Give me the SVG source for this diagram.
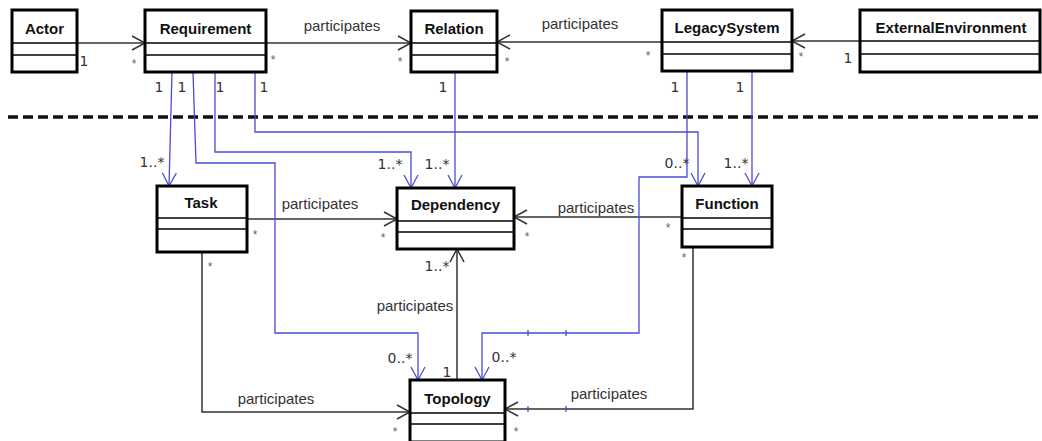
<svg xmlns="http://www.w3.org/2000/svg" width="1042" height="441" viewBox="0 0 1042 441">
  <defs>
    <style>
      .box { fill: #fff; stroke: #000; stroke-width: 3; }
      .sep { stroke: #000; stroke-width: 1.5; }
      .title { font-family: "Liberation Sans", Arial, sans-serif; font-size: 15px; font-weight: bold; fill: #111; text-anchor: middle; }
      .lbl { font-family: "Liberation Sans", Arial, sans-serif; font-size: 15px; fill: #333; text-anchor: middle; }
      .mult { font-family: "DejaVu Sans", "Liberation Sans", sans-serif; font-size: 14px; fill: #333; text-anchor: middle; }
      .star { font-family: "Liberation Sans", Arial, sans-serif; font-size: 12px; fill: #666; text-anchor: middle; }
      .assoc { fill: none; stroke: #333; stroke-width: 1.5; marker-end: url(#open-black); }
      .trace { fill: none; stroke: #4b4bd6; stroke-width: 1.3; marker-end: url(#open-blue); }
      .tick { stroke: #4b4bd6; stroke-width: 1.3; }
    </style>
    <marker id="open-black" viewBox="-14 -8 16 16" refX="0" refY="0" markerWidth="16" markerHeight="16" markerUnits="userSpaceOnUse" orient="auto">
      <path d="M-13,-7 L0,0 L-13,7" fill="none" stroke="#333" stroke-width="1.5"/>
    </marker>
    <marker id="open-blue" viewBox="-14 -8 16 16" refX="0" refY="0" markerWidth="16" markerHeight="16" markerUnits="userSpaceOnUse" orient="auto">
      <path d="M-13,-7 L0,0 L-13,7" fill="none" stroke="#4b4bd6" stroke-width="1.3"/>
    </marker>
  </defs>

  <rect width="1042" height="441" fill="#fff"/>

  <!-- layer divider -->
  <line x1="8" y1="117" x2="1042" y2="117" stroke="#111" stroke-width="3.5" stroke-dasharray="10 5"/>

  <g id="connectors">
    <!-- associations -->
    <path class="assoc" d="M77,43 H145"/>
    <path class="assoc" d="M266,43 H411"/>
    <path class="assoc" d="M662,42 H497"/>
    <path class="assoc" d="M860,41 H792"/>
    <path class="assoc" d="M247,219 H397"/>
    <path class="assoc" d="M682,217 H514"/>
    <path class="assoc" d="M202,252 V412 H410"/>
    <path class="assoc" d="M457,380 V249"/>
    <path class="assoc" d="M693,247 V409 H505"/>
    <!-- traces -->
    <path class="trace" d="M172,72 L169,186"/>
    <path class="trace" d="M193,72 L196,163 H275 V333 H418 V380"/>
    <path class="trace" d="M215,72 V152 H411 V188"/>
    <path class="trace" d="M255,72 V132 H698 V186"/>
    <path class="trace" d="M455,72 V188"/>
    <path class="trace" d="M687,71 V177 H639 V333 H482 V380"/>
    <path class="trace" d="M752,71 V186"/>
    <line class="tick" x1="528" y1="330" x2="528" y2="336"/>
    <line class="tick" x1="566" y1="330" x2="566" y2="336"/>
    <line class="tick" x1="528" y1="406" x2="528" y2="412"/>
    <line class="tick" x1="566" y1="406" x2="566" y2="412"/>

    <!-- association labels -->
    <text class="lbl" x="342" y="31">participates</text>
    <text class="lbl" x="580" y="29">participates</text>
    <text class="lbl" x="320" y="209">participates</text>
    <text class="lbl" x="596" y="213">participates</text>
    <text class="lbl" x="415" y="311">participates</text>
    <text class="lbl" x="276" y="404">participates</text>
    <text class="lbl" x="609" y="399">participates</text>

    <!-- multiplicities -->
    <text class="mult" x="84" y="66">1</text>
    <text class="star" x="134" y="68">*</text>
    <text class="star" x="273" y="64">*</text>
    <text class="star" x="400" y="66">*</text>
    <text class="star" x="507" y="66">*</text>
    <text class="star" x="648" y="60">*</text>
    <text class="star" x="801" y="61">*</text>
    <text class="mult" x="848" y="63">1</text>

    <text class="mult" x="159" y="92">1</text>
    <text class="mult" x="182" y="92">1</text>
    <text class="mult" x="220" y="92">1</text>
    <text class="mult" x="264" y="92">1</text>
    <text class="mult" x="443" y="92">1</text>
    <text class="mult" x="675" y="92">1</text>
    <text class="mult" x="740" y="92">1</text>

    <text class="mult" x="152" y="167">1..*</text>
    <text class="mult" x="390" y="169">1..*</text>
    <text class="mult" x="437" y="169">1..*</text>
    <text class="mult" x="677" y="168">0..*</text>
    <text class="mult" x="736" y="168">1..*</text>

    <text class="star" x="255" y="239">*</text>
    <text class="star" x="383" y="242">*</text>
    <text class="star" x="527" y="241">*</text>
    <text class="star" x="668" y="232">*</text>
    <text class="star" x="210" y="271">*</text>
    <text class="star" x="684" y="262">*</text>
    <text class="mult" x="437" y="271">1..*</text>
    <text class="mult" x="400" y="363">0..*</text>
    <text class="mult" x="447" y="377">1</text>
    <text class="mult" x="504" y="362">0..*</text>
    <text class="star" x="395" y="436">*</text>
    <text class="star" x="516" y="436">*</text>
  </g>

  <g id="actor">
    <rect class="box" x="12" y="10" width="65" height="62"/>
    <line class="sep" x1="12" y1="43" x2="77" y2="43"/>
    <line class="sep" x1="12" y1="55" x2="77" y2="55"/>
    <text class="title" x="44.5" y="34">Actor</text>
  </g>
  <g id="requirement">
    <rect class="box" x="145" y="10" width="121" height="62"/>
    <line class="sep" x1="145" y1="43" x2="266" y2="43"/>
    <line class="sep" x1="145" y1="55" x2="266" y2="55"/>
    <text class="title" x="205.5" y="34">Requirement</text>
  </g>
  <g id="relation">
    <rect class="box" x="411" y="11" width="86" height="61"/>
    <line class="sep" x1="411" y1="43" x2="497" y2="43"/>
    <line class="sep" x1="411" y1="55" x2="497" y2="55"/>
    <text class="title" x="454" y="34">Relation</text>
  </g>
  <g id="legacy-system">
    <rect class="box" x="662" y="10" width="130" height="61"/>
    <line class="sep" x1="662" y1="42" x2="792" y2="42"/>
    <line class="sep" x1="662" y1="54" x2="792" y2="54"/>
    <text class="title" x="727" y="33">LegacySystem</text>
  </g>
  <g id="external-environment">
    <rect class="box" x="860" y="10" width="180" height="62"/>
    <line class="sep" x1="860" y1="41" x2="1040" y2="41"/>
    <line class="sep" x1="860" y1="54" x2="1040" y2="54"/>
    <text class="title" x="951" y="33">ExternalEnvironment</text>
  </g>
  <g id="task">
    <rect class="box" x="157" y="186" width="90" height="66"/>
    <line class="sep" x1="157" y1="218" x2="247" y2="218"/>
    <line class="sep" x1="157" y1="229" x2="247" y2="229"/>
    <text class="title" x="201" y="208">Task</text>
  </g>
  <g id="dependency">
    <rect class="box" x="397" y="188" width="117" height="61"/>
    <line class="sep" x1="397" y1="221" x2="514" y2="221"/>
    <line class="sep" x1="397" y1="232" x2="514" y2="232"/>
    <text class="title" x="455.5" y="210">Dependency</text>
  </g>
  <g id="function">
    <rect class="box" x="682" y="186" width="90" height="61"/>
    <line class="sep" x1="682" y1="218" x2="772" y2="218"/>
    <line class="sep" x1="682" y1="229" x2="772" y2="229"/>
    <text class="title" x="727" y="209">Function</text>
  </g>
  <g id="topology">
    <rect class="box" x="410" y="380" width="95" height="62"/>
    <line class="sep" x1="410" y1="413" x2="505" y2="413"/>
    <line class="sep" x1="410" y1="424" x2="505" y2="424"/>
    <text class="title" x="457.5" y="404">Topology</text>
  </g>
</svg>
